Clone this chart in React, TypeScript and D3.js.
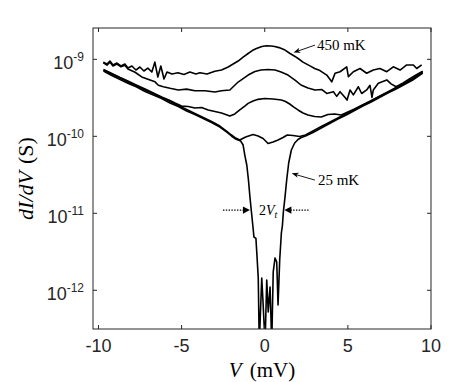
import React from "react";
import * as d3 from "d3";

const WIDTH = 457;
const HEIGHT = 382;
const margin = { top: 28, right: 26, bottom: 53, left: 93 };

// bias V (mV) and dI/dV in units of 1e-10 S
const v450 = [-9.71, -9.49, -9.31, -9.13, -8.89, -8.65, -8.41, -8.23, -7.99, -7.75, -7.51, -7.27, -7.03, -6.79, -6.61, -6.43, -6.25, -6.06, -5.88, -5.58, -5.22, -4.86, -4.5, -4.14, -3.9, -3.47, -3.0, -2.6, -2.2, -1.6, -1.3, -1.0, -0.75, -0.5, -0.17, 0.1, 0.38, 0.6, 0.86, 1.22, 1.5, 1.82, 2.05, 2.3, 2.55, 2.78, 3.0, 3.32, 3.73, 4.03, 4.23, 4.53, 4.93, 5.03, 5.33, 5.73, 6.13, 6.53, 6.93, 7.34, 7.73, 8.14, 8.54, 8.94, 9.14, 9.44];
const g450 = [9.2, 8.7, 9.5, 8.45, 8.95, 8.2, 8.7, 7.7, 8.2, 7.26, 7.95, 7.05, 7.7, 6.84, 9.2, 5.9, 8.2, 5.55, 6.84, 6.45, 6.7, 6.35, 6.84, 6.45, 6.7, 6.45, 7.0, 7.26, 7.95, 9.5, 10.7, 11.9, 13.0, 13.8, 14.7, 15.0, 14.9, 14.7, 14.2, 13.2, 12.0, 10.9, 10.1, 9.2, 8.6, 8.1, 7.6, 7.15, 6.25, 5.1, 6.6, 6.9, 8.0, 5.95, 6.9, 7.6, 6.6, 7.26, 7.6, 6.9, 8.0, 7.26, 8.45, 8.45, 7.6, 8.45];

const v2 = [-9.71, -9.49, -9.31, -9.13, -8.89, -8.65, -8.41, -8.23, -7.8, -7.4, -6.9, -6.6, -6.4, -6.1, -5.7, -5.2, -4.7, -4.2, -3.6, -3.0, -2.6, -2.1, -1.6, -1.0, -0.59, -0.23, 0.2, 0.62, 0.98, 1.4, 1.82, 2.18, 2.6, 3.02, 3.44, 3.73, 4.13, 4.33, 4.53, 4.83, 4.95, 5.13, 5.33, 5.63, 5.83, 6.13, 6.33, 6.45, 6.53, 6.83, 7.34, 7.6, 7.9, 8.3, 8.7, 9.1, 9.5];
const g2 = [9.0, 8.4, 9.2, 8.2, 8.7, 8.0, 8.4, 7.5, 6.8, 5.9, 5.4, 5.1, 4.6, 4.4, 4.2, 4.0, 4.1, 3.9, 3.9, 3.76, 3.9, 4.0, 5.07, 6.25, 6.95, 7.26, 7.37, 7.26, 6.84, 6.25, 5.38, 4.64, 4.24, 3.99, 4.05, 3.6, 3.8, 3.3, 3.8, 3.2, 2.96, 4.0, 3.45, 4.4, 3.6, 4.0, 4.6, 3.2, 4.0, 4.9, 5.4, 4.8, 4.4, 4.9, 5.55, 6.25, 7.0];

const v3 = [-9.7, -9.2, -8.7, -8.2, -7.7, -7.2, -6.7, -6.2, -5.7, -5.4, -5.0, -4.6, -4.2, -3.8, -3.4, -3.0, -2.6, -2.1, -1.8, -1.5, -1.2, -1.0, -0.7, -0.4, 0.0, 0.5, 1.0, 1.25, 1.5, 1.75, 2.0, 2.3, 2.6, 3.0, 3.4, 3.8, 4.2, 4.6, 5.0, 5.4, 5.9, 6.4, 6.9, 7.4, 7.9, 8.4, 8.9, 9.5];
const g3 = [7.37, 6.54, 5.8, 5.18, 4.6, 4.11, 3.65, 3.24, 2.92, 2.71, 2.47, 2.44, 2.33, 2.37, 2.2, 2.1, 2.01, 1.83, 1.95, 2.2, 2.47, 2.68, 2.87, 3.02, 3.1, 3.05, 2.96, 2.83, 2.63, 2.4, 2.2, 2.01, 1.89, 1.81, 1.78, 1.92, 1.95, 1.89, 2.07, 2.26, 2.57, 2.91, 3.32, 3.76, 4.3, 4.89, 5.62, 6.94];

const v4 = [-9.7, -9.2, -8.7, -8.2, -7.7, -7.2, -6.7, -6.2, -5.7, -5.2, -4.7, -4.2, -3.7, -3.2, -2.7, -2.3, -2.0, -1.75, -1.5, -1.15, -0.7, -0.4, -0.1, 0.2, 0.5, 0.8, 1.1, 1.35, 1.7, 2.1, 2.45, 2.9, 3.4, 3.9, 4.4, 4.9, 5.4, 5.9, 6.4, 6.9, 7.4, 7.9, 8.4, 8.9, 9.5];
const g4 = [7.26, 6.44, 5.72, 5.07, 4.5, 3.99, 3.57, 3.18, 2.82, 2.51, 2.23, 1.98, 1.76, 1.56, 1.36, 1.17, 1.04, 0.95, 0.896, 0.98, 1.055, 1.01, 0.936, 0.806, 0.843, 0.896, 0.965, 1.04, 1.024, 0.994, 1.04, 1.17, 1.34, 1.52, 1.73, 1.97, 2.24, 2.54, 2.89, 3.29, 3.74, 4.25, 4.84, 5.55, 6.74];

const v25 = [-9.7, -9.2, -8.7, -8.2, -7.7, -7.2, -6.7, -6.2, -5.7, -5.2, -4.7, -4.2, -3.7, -3.2, -2.7, -2.3, -2.0, -1.75, -1.45, -1.3, -1.2, -1.08, -0.98, -0.89, -0.8, -0.69, -0.65, -0.53, -0.47, -0.39, -0.33, -0.18, -0.11, 0.02, 0.12, 0.21, 0.32, 0.42, 0.51, 0.62, 0.72, 0.8, 0.9, 1.0, 1.06, 1.12, 1.22, 1.32, 1.44, 1.6, 1.8, 2.0, 2.2, 2.45, 2.9, 3.4, 3.9, 4.4, 4.9, 5.4, 5.9, 6.4, 6.9, 7.4, 7.9, 8.4, 8.9, 9.5];
const g25 = [7.05, 6.16, 5.47, 4.85, 4.37, 3.82, 3.44, 3.1, 2.71, 2.44, 2.13, 1.92, 1.7, 1.51, 1.32, 1.14, 1.01, 0.923, 0.869, 0.771, 0.571, 0.424, 0.271, 0.163, 0.104, 0.0607, 0.0492, 0.0471, 0.0287, 0.0144, 0.002, 0.0144, 0.00748, 0.002, 0.0136, 0.00523, 0.011, 0.002, 0.0173, 0.0263, 0.0233, 0.00644, 0.0247, 0.0555, 0.0684, 0.104, 0.163, 0.271, 0.45, 0.664, 0.818, 0.909, 0.965, 1.01, 1.12, 1.28, 1.47, 1.68, 1.89, 2.16, 2.47, 2.79, 3.19, 3.65, 4.11, 4.71, 5.38, 6.64];

const xTicks = [-10, -5, 0, 5, 10];
const yTickExps = [-12, -11, -10, -9];

const curves = [
  [v450, g450],
  [v2, g2],
  [v3, g3],
  [v4, g4],
  [v25, g25],
];

const sans = "'Liberation Sans', Arial, Helvetica, sans-serif";
const serif = "'Liberation Serif', 'Times New Roman', serif";

function arrowHead(tx: number, ty: number, fx: number, fy: number, len = 7, half = 2.6, notch = 5) {
  const dx = tx - fx, dy = ty - fy;
  const L = Math.hypot(dx, dy);
  const ux = dx / L, uy = dy / L;
  const px = -uy, py = ux;
  const bx = tx - ux * len, by = ty - uy * len;
  const nx = tx - ux * notch, ny = ty - uy * notch;
  return `${tx},${ty} ${bx + px * half},${by + py * half} ${nx},${ny} ${bx - px * half},${by - py * half}`;
}

export default function App() {
  const x = d3.scaleLinear().domain([-10.33, 10]).range([margin.left, WIDTH - margin.right]);
  const y = d3.scaleLog()
    .domain([10 ** -12.503, 10 ** -8.593])
    .range([HEIGHT - margin.bottom, margin.top]);

  const line = d3.line<[number, number]>()
    .x((d) => x(d[0]))
    .y((d) => y(d[1] * 1e-10));

  const x0 = margin.left, x1 = WIDTH - margin.right;
  const y0 = margin.top, y1 = HEIGHT - margin.bottom;
  const tick = 4;

  // annotations (data coordinates)
  const hotTip = [x(1.73), y(1.225e-9)], hotTail = [x(3.02), y(1.53e-9)];
  const coldTip = [x(1.62), y(3.31e-11)], coldTail = [x(3.02), y(2.7e-11)];
  const gy = y(1.1e-11);
  const lTip = x(-0.89), lStart = x(-2.51);
  const rTip = x(1.18), rEnd = x(2.72);

  return (
    <svg width={WIDTH} height={HEIGHT} style={{ position: "absolute", left: 0, top: 0, background: "#fff" }}>
      <defs>
        <clipPath id="plot">
          <rect x={x0} y={y0} width={x1 - x0} height={y1 - y0} />
        </clipPath>
      </defs>

      {/* curves */}
      <g clipPath="url(#plot)" fill="none" stroke="#000" strokeWidth={1.6} strokeLinejoin="round">
        {curves.map(([vs, gs], i) => {
          const n = Math.min(vs.length, gs.length);
          const pts = d3.range(n).map((k) => [vs[k], gs[k]] as [number, number]);
          return <path key={i} d={line(pts) ?? ""} />;
        })}
      </g>

      {/* box and ticks */}
      <g stroke="#262626" strokeWidth={1} fill="none">
        <rect x={x0} y={y0} width={x1 - x0} height={y1 - y0} />
        {xTicks.map((t) => (
          <g key={t}>
            <line x1={x(t)} x2={x(t)} y1={y1} y2={y1 - tick} />
            <line x1={x(t)} x2={x(t)} y1={y0} y2={y0 + tick} />
          </g>
        ))}
        {yTickExps.map((e) => (
          <g key={e}>
            <line x1={x0} x2={x0 + tick} y1={y(10 ** e)} y2={y(10 ** e)} />
            <line x1={x1} x2={x1 - tick} y1={y(10 ** e)} y2={y(10 ** e)} />
          </g>
        ))}
      </g>

      {/* tick labels */}
      <g fontFamily={sans} fill="#262626">
        {xTicks.map((t) => (
          <text key={t} x={x(t)} y={y1 + 23} fontSize={18} textAnchor="middle">
            {t}
          </text>
        ))}
        {yTickExps.map((e) => (
          <text key={e} x={x0 - 9} y={y(10 ** e) + 9.5} fontSize={18} textAnchor="end">
            10
            <tspan dy={-7.5} fontSize={12}>
              {e}
            </tspan>
          </text>
        ))}
      </g>

      {/* axis labels */}
      <text x={(x0 + x1) / 2} y={377} fontFamily={serif} fontSize={21} textAnchor="middle" fill="#000">
        <tspan fontStyle="italic">V</tspan>
        <tspan dx={8}>(mV)</tspan>
      </text>
      <text
        transform={`translate(33,${(y0 + y1) / 2}) rotate(-90)`}
        fontFamily={serif}
        fontSize={22}
        textAnchor="middle"
        fill="#000"
      >
        <tspan fontStyle="italic">dI/dV</tspan>
        <tspan dx={7}>(S)</tspan>
      </text>

      {/* temperature labels */}
      <g stroke="#000" strokeWidth={0.9} fill="#000">
        <line x1={hotTail[0]} y1={hotTail[1]} x2={hotTip[0] + 3} y2={hotTip[1] - 1} />
        <polygon stroke="none" points={arrowHead(hotTip[0], hotTip[1], hotTail[0], hotTail[1])} />
        <line x1={coldTail[0]} y1={coldTail[1]} x2={coldTip[0] + 3} y2={coldTip[1] + 1} />
        <polygon stroke="none" points={arrowHead(coldTip[0], coldTip[1], coldTail[0], coldTail[1])} />
      </g>
      <text x={hotTail[0] + 2} y={hotTail[1] + 5} fontFamily={serif} fontSize={15} fill="#000">
        450 mK
      </text>
      <text x={coldTail[0] + 3} y={coldTail[1] + 5} fontFamily={serif} fontSize={15} fill="#000">
        25 mK
      </text>

      {/* 2V_t gap marker */}
      <g stroke="#000" strokeWidth={1.3} strokeDasharray="1.4,1.4">
        <line x1={lStart} x2={lTip - 6} y1={gy} y2={gy} />
        <line x1={rTip + 6} x2={rEnd} y1={gy} y2={gy} />
      </g>
      <g fill="#000">
        <polygon points={`${lTip},${gy} ${lTip - 7},${gy - 3.6} ${lTip - 7},${gy + 3.6}`} />
        <polygon points={`${rTip},${gy} ${rTip + 7},${gy - 3.6} ${rTip + 7},${gy + 3.6}`} />
      </g>
      <text x={x(0.2)} y={gy + 4.5} fontFamily={serif} fontSize={14} textAnchor="middle" fill="#000">
        2<tspan fontStyle="italic">V</tspan>
        <tspan fontStyle="italic" fontSize={10} dy={3}>t</tspan>
      </text>
    </svg>
  );
}
